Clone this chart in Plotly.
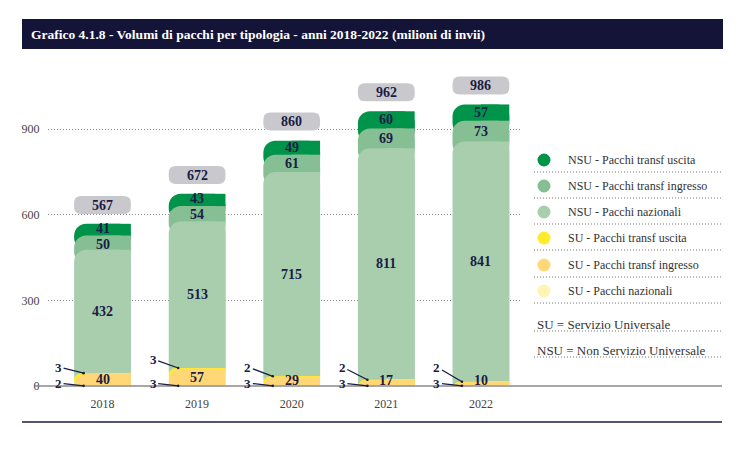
import plotly.graph_objects as go

# ---------------- data ----------------
years = [2018, 2019, 2020, 2021, 2022]
su_naz = [2, 3, 3, 3, 3]
su_ingr = [40, 57, 29, 17, 10]
su_usc = [3, 3, 2, 2, 2]
nsu_naz = [432, 513, 715, 811, 841]
nsu_ingr = [50, 54, 61, 69, 73]
nsu_usc = [41, 43, 49, 60, 57]
totals = [567, 672, 860, 962, 986]
y_ticks = [0, 300, 600, 900]

# bottom -> top order
series = [su_naz, su_ingr, su_usc, nsu_naz, nsu_ingr, nsu_usc]
names = ["SU - Pacchi nazionali", "SU - Pacchi transf ingresso", "SU - Pacchi transf uscita",
         "NSU - Pacchi nazionali", "NSU - Pacchi transf ingresso", "NSU - Pacchi transf uscita"]
colors = ["#fff3b6", "#ffd777", "#ffeb2a", "#a8ceae", "#86bf94", "#00944b"]

# ---------------- geometry ----------------
W, H = 752, 450
PL, PR, PT, PB = 48, 521, 60, 386          # plot area in px
PXU = 94.6                                 # px per category step
YK = (386 - 129) / 900.0                   # px per unit on y
x_lo = 2018 - (102.5 - PL) / PXU
x_hi = x_lo + (PR - PL) / PXU
y_hi = (PB - PT) / YK
BW = 0.6
RAD = 12
EXT = RAD / YK + 8

def pxx(p):
    return (p - PL) / (PR - PL)

def pxy(p):
    return (PB - p) / (PB - PT)

NAVY = "#1b1c45"
FONT = "Liberation Serif"

# cumulative bounds
bottoms, tops = [], []
run = [0] * len(years)
for s in series:
    bottoms.append(run[:])
    run = [a + b for a, b in zip(run, s)]
    tops.append(run[:])

fig = go.Figure()
for k in range(len(series) - 1, -1, -1):
    s = series[k]
    ext = EXT if k > 0 else 0
    base = [b - ext for b in bottoms[k]]
    hgt = [v + ext for v in s]
    fig.add_trace(go.Bar(
        x=years, y=hgt, base=base, width=BW, offset=-BW / 2,
        marker=dict(color=colors[k], line=dict(width=0), cornerradius=RAD if k > 0 else 0),
        name=names[k], showlegend=False, hoverinfo="skip"))
    fig.add_trace(go.Bar(
        x=years, y=s, base=bottoms[k], width=BW / 2, offset=0,
        marker=dict(color=colors[k], line=dict(width=0)),
        showlegend=False, hoverinfo="skip"))

annotations = []
shapes = []

# segment labels
MIN_LABEL_Y = 20
MIN_GAP_PX = 16
for i, yr in enumerate(years):
    ys = {}
    for k in [1, 3, 4, 5]:
        v = series[k][i]
        yc = bottoms[k][i] + v / 2
        if k == 1:
            yc = max(yc, MIN_LABEL_Y)
        ys[k] = yc
    shift = {k: 0 for k in ys}
    gap_px = (ys[5] - ys[4]) * YK
    if gap_px < MIN_GAP_PX:
        d = (MIN_GAP_PX - gap_px) / 2
        shift[5] = d
        shift[4] = -d
    for k in [1, 3, 4, 5]:
        annotations.append(dict(x=yr, y=ys[k], yshift=shift[k], text=f"<b>{series[k][i]}</b>",
                                showarrow=False, font=dict(family=FONT, size=14, color=NAVY)))

# small SU labels with arrows
upper_text_px = [367, 359, 367, 367, 367]
lower_text_px = [383, 383, 383, 383, 383]
for i, yr in enumerate(years):
    annotations.append(dict(x=yr - 0.2, y=tops[2][i], text=f"<b>{su_usc[i]}</b>",
                            ax=-25, ayref="y", ay=(PB - upper_text_px[i]) / YK,
                            showarrow=True, arrowhead=6, arrowsize=0.5, arrowwidth=1.3,
                            arrowcolor=NAVY, standoff=0,
                            font=dict(family=FONT, size=13, color=NAVY)))
    annotations.append(dict(x=yr - 0.2, y=0.5, text=f"<b>{su_naz[i]}</b>",
                            ax=-25, ayref="y", ay=(PB - lower_text_px[i]) / YK,
                            showarrow=True, arrowhead=6, arrowsize=0.5, arrowwidth=1.3,
                            arrowcolor=NAVY, standoff=0,
                            font=dict(family=FONT, size=13, color=NAVY)))

# total boxes
rx, ry = 7 / PXU, 7 / YK
for i, yr in enumerate(years):
    x0, x1 = yr - BW / 2, yr + BW / 2
    y0 = totals[i] + 10 / YK
    y1 = y0 + 18 / YK
    path = (f"M {x0+rx},{y0} L {x1-rx},{y0} Q {x1},{y0} {x1},{y0+ry} "
            f"L {x1},{y1-ry} Q {x1},{y1} {x1-rx},{y1} L {x0+rx},{y1} "
            f"Q {x0},{y1} {x0},{y1-ry} L {x0},{y0+ry} Q {x0},{y0} {x0+rx},{y0} Z")
    shapes.append(dict(type="path", xref="x", yref="y", path=path,
                       fillcolor="#c9c9cd", line=dict(width=0), layer="above"))
    annotations.append(dict(x=yr, y=(y0 + y1) / 2, text=f"<b>{totals[i]}</b>", showarrow=False,
                            font=dict(family=FONT, size=14, color=NAVY)))

# title bar
shapes.append(dict(type="rect", xref="paper", yref="paper", x0=pxx(22), x1=pxx(723),
                   y0=pxy(49), y1=pxy(19), fillcolor="#141338", line=dict(width=0)))
annotations.append(dict(xref="paper", yref="paper", x=pxx(29), y=pxy(34), xanchor="left",
                        yanchor="middle", showarrow=False,
                        text="<b>Grafico 4.1.8 - Volumi di pacchi per tipologia - anni 2018-2022 (milioni di invii)</b>",
                        font=dict(family=FONT, size=13.5, color="white")))

# axis line and bottom rule
shapes.append(dict(type="line", xref="paper", yref="paper", x0=pxx(35), x1=pxx(722),
                   y0=0, y1=0, line=dict(color="#8a8a8a", width=1.5)))
shapes.append(dict(type="line", xref="paper", yref="paper", x0=pxx(22), x1=pxx(722),
                   y0=pxy(422), y1=pxy(422), line=dict(color="#1b1c45", width=1.5)))

# manual legend
leg_y = [160, 186, 212, 238, 265, 291]
for j, k in enumerate(range(len(series) - 1, -1, -1)):
    yy = leg_y[j]
    shapes.append(dict(type="circle", xref="paper", yref="paper", xsizemode="pixel",
                       ysizemode="pixel", xanchor=pxx(544), yanchor=pxy(yy),
                       x0=-6.5, x1=6.5, y0=-6.5, y1=6.5, fillcolor=colors[k], line=dict(width=0)))
    annotations.append(dict(xref="paper", yref="paper", x=pxx(566), y=pxy(yy), xanchor="left",
                            yanchor="middle", showarrow=False, text=names[k],
                            font=dict(family=FONT, size=12, color="#333333")))
    shapes.append(dict(type="line", xref="paper", yref="paper", x0=pxx(534), x1=pxx(721),
                       y0=pxy(yy + 12), y1=pxy(yy + 12),
                       line=dict(color="#777777", width=1, dash="1px,2px")))
notes = [("SU = Servizio Universale", 324), ("NSU = Non Servizio Universale", 350)]
for txt, yy in notes:
    annotations.append(dict(xref="paper", yref="paper", x=pxx(535), y=pxy(yy), xanchor="left",
                            yanchor="middle", showarrow=False, text=txt,
                            font=dict(family=FONT, size=13, color="#333333")))
    shapes.append(dict(type="line", xref="paper", yref="paper", x0=pxx(534), x1=pxx(721),
                       y0=pxy(yy + 7), y1=pxy(yy + 7),
                       line=dict(color="#777777", width=1, dash="1px,2px")))

fig.update_layout(
    width=W, height=H, barmode="overlay",
    margin=dict(l=PL, r=W - PR, t=PT, b=H - PB),
    paper_bgcolor="white", plot_bgcolor="white",
    showlegend=False,
    xaxis=dict(range=[x_lo, x_hi], tickvals=years, ticktext=[str(y) for y in years],
               showgrid=False, zeroline=False, showline=False,
               ticks="outside", ticklen=7, tickcolor="rgba(0,0,0,0)",
               tickfont=dict(family=FONT, size=12, color="#444444"), fixedrange=True),
    yaxis=dict(range=[0, y_hi], tickvals=y_ticks, showgrid=True, gridcolor="#8a8a8a",
               griddash="1px,2px", gridwidth=1, zeroline=False, showline=False,
               ticks="outside", ticklen=5, tickcolor="rgba(0,0,0,0)",
               tickfont=dict(family=FONT, size=12, color="#444444"), fixedrange=True),
    shapes=shapes, annotations=annotations,
)

fig.write_html("out.html")
